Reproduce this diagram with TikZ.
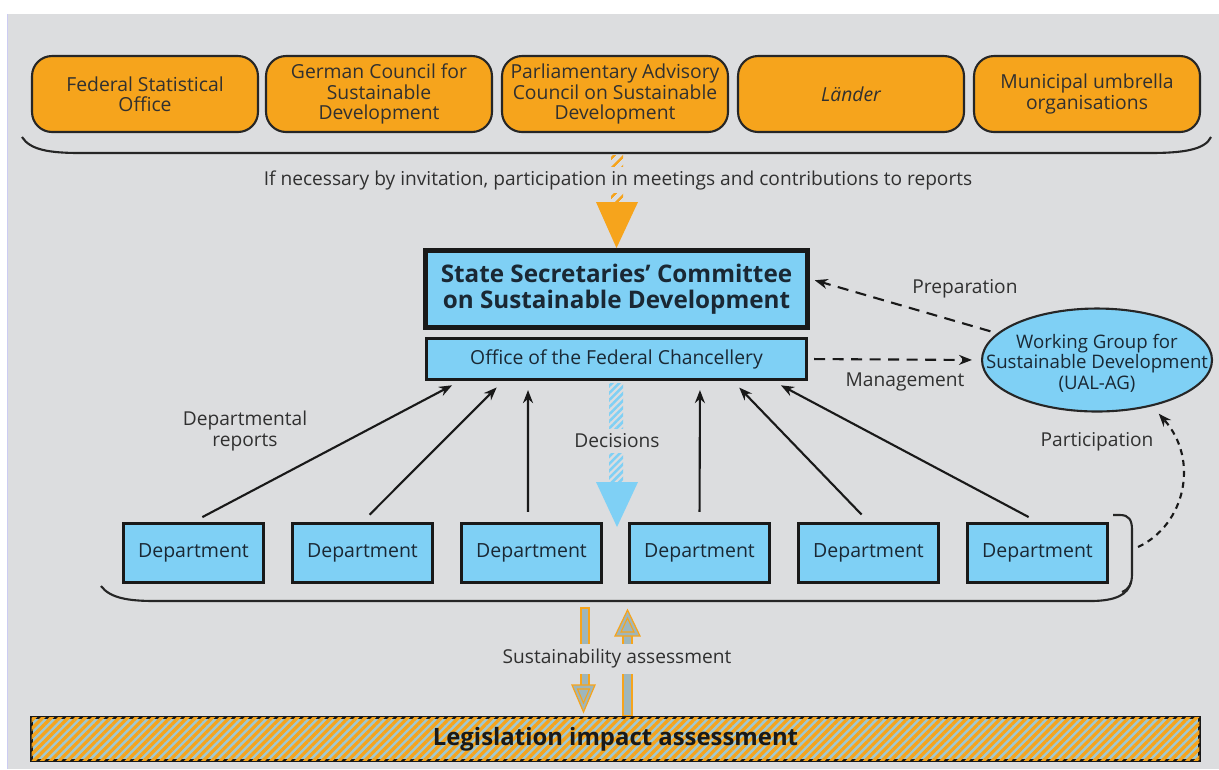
\documentclass[tikz,border=0pt]{standalone}
\usepackage{fontspec}
\setmainfont{Open Sans}
\usetikzlibrary{positioning,shapes.geometric,arrows.meta,patterns.meta}
\definecolor{bggrey}{RGB}{220,221,223}
\definecolor{orgfill}{RGB}{246,164,28}
\definecolor{bluefill}{RGB}{127,208,245}
\definecolor{txtgrey}{RGB}{48,48,48}
\definecolor{navytxt}{RGB}{26,40,52}
\definecolor{assessgrey}{RGB}{158,182,188}
\definecolor{legisblue}{RGB}{160,200,210}
\tikzset{org node/.style={rectangle,rounded corners=0.4cm,fill=orgfill,draw=black!85,line width=1.2pt,minimum width=4.52cm,minimum height=1.52cm,inner sep=0pt,align=center,text=txtgrey,font=\fontsize{11}{11.6}\selectfont}}
\tikzset{comm node/.style={rectangle,fill=bluefill,draw=black!90,line width=2.8pt,minimum width=7.64cm,minimum height=1.54cm,inner sep=0pt,align=center,text=navytxt,font=\fontsize{13.8}{14.8}\selectfont\bfseries}}
\tikzset{office node/.style={rectangle,fill=bluefill,draw=black!90,line width=1.8pt,minimum width=7.6cm,minimum height=0.82cm,inner sep=0pt,text=navytxt,font=\fontsize{11}{12}\selectfont}}
\tikzset{dept node/.style={rectangle,fill=bluefill,draw=black!90,line width=2pt,minimum width=2.8cm,minimum height=1.18cm,inner sep=0pt,text=navytxt,font=\fontsize{11.1}{12}\selectfont}}
\tikzset{wg node/.style={ellipse,fill=bluefill,draw=black!85,line width=1.2pt,minimum width=4.6cm,minimum height=2.06cm,inner sep=0pt}}
\tikzset{wg text/.style={align=center,text=navytxt,inner sep=0pt,font=\fontsize{10.6}{11.6}\selectfont}}
\tikzset{legis node/.style={rectangle,fill=legisblue,postaction={pattern={Lines[angle=45,distance=0.12cm,line width=0.065cm]},pattern color=orgfill},draw=black!90,line width=1.8pt,minimum width=23.36cm,minimum height=0.86cm,inner sep=0pt,text=black!90,font=\fontsize{13.6}{15}\selectfont\bfseries}}
\tikzset{label node/.style={align=center,text=txtgrey,inner sep=2pt,font=\fontsize{10.9}{11.5}\selectfont}}
\tikzset{brace line/.style={draw=black!85,line width=1.2pt}}
\tikzset{report/.style={draw=black!90,line width=1.2pt,-{Stealth[length=0.26cm,width=0.2cm]},shorten <=0.2cm,shorten >=0.18cm}}
\tikzset{dash arrow/.style={draw=black!90,line width=1.2pt,dash pattern=on 0.22cm off 0.15cm,-{Stealth[length=0.26cm,width=0.2cm]}}}
\tikzset{dot arrow/.style={draw=black!90,line width=1.2pt,dash pattern=on 0.12cm off 0.1cm,-{Stealth[length=0.26cm,width=0.2cm]}}}
\tikzset{assess arrow/.style={fill=assessgrey,draw=orgfill,line width=0.7pt}}

\begin{document}
\begin{tikzpicture}[x=0.02cm,y=-0.02cm]
        % page
        \useasboundingbox (0,0) rectangle (1219,769);
        \fill[white] (0,0) rectangle (1219,769);
        \fill[bggrey] (8,14) rectangle (1219,769);
        \draw[black!25!blue!20,line width=0.8pt] (7.5,14) -- (7.5,769);

        % contributors
        \node[org node] (fso) at (145,94) {Federal Statistical\\Office};
        \node[org node] (gcsd) at (379,94) {German Council for\\Sustainable\\Development};
        \node[org node] (pacsd) at (615,94) {Parliamentary Advisory\\Council on Sustainable\\Development};
        \node[org node] (laender) at (851,94) {\itshape Länder};
        \node[org node] (muo) at (1087,94) {Municipal umbrella\\organisations};
        \path[brace line] (22,137) .. controls (30,150) and (50,153) .. (80,153) -- (1150,153) .. controls (1182,153) and (1205,150) .. (1211,137);

        % committee
        \node[comm node] (ssc) at (616.5,289) {State Secretaries' Committee\\on Sustainable Development};
        \node[office node] (office) at (616.5,359) {Office of the Federal Chancellery};
        \node[wg node] (wg) at (1097,360) {};
        \node[wg text] (wgtxt) at (1097,363) {Working Group for\\Sustainable Development\\(UAL-AG)};

        % invitation arrow
        \fill[pattern={Lines[angle=45,distance=0.14cm,line width=0.05cm]},pattern color=orgfill] (611,155) rectangle (623,204);
        \node[label node,fill=bggrey] (invite) at (618,180) {If necessary by invitation, participation in meetings and contributions to reports};
        \fill[orgfill] (596,202) -- (638,202) -- (ssc.north) -- cycle;

        % departments
        \node[dept node] (d1) at (193.5,553) {Department};
        \node[dept node] (d2) at (362.5,553) {Department};
        \node[dept node] (d3) at (531.5,553) {Department};
        \node[dept node] (d4) at (699.5,553) {Department};
        \node[dept node] (d5) at (868.5,553) {Department};
        \node[dept node] (d6) at (1037.5,553) {Department};
        \path[brace line] (101,586) .. controls (110,598) and (128,601) .. (155,601) -- (1090,601) .. controls (1115,601) and (1128,595) .. (1131,582);
        \path[brace line] (1113,515) -- (1120,515) .. controls (1129,515) and (1132,520) .. (1132,530) -- (1132,574) .. controls (1132,584) and (1129,589) .. (1122,592);
        \coordinate (brk) at (1138,547);

        % reports
        \path
        (d1.north) edge[report] ([xshift=-3.13cm]office.south)
        (d2.north) edge[report] ([xshift=-2.27cm]office.south)
        ([xshift=-0.07cm]d3.north) edge[report] ([xshift=-1.77cm]office.south)
        (d4.north) edge[report] ([xshift=1.67cm]office.south)
        (d5.north) edge[report] ([xshift=2.33cm]office.south)
        (d6.north) edge[report] ([xshift=3.13cm]office.south);
        \node[label node] (reports) at (245,431) {Departmental\\reports};

        % decisions arrow
        \fill[pattern={Lines[angle=45,distance=0.1cm,line width=0.05cm]},pattern color=bluefill] (609,383) rectangle (623,483);
        \node[label node,fill=bggrey,inner sep=3pt] (dec) at (617,441) {Decisions};
        \fill[bluefill] (596,482) -- (638,482) -- (617,527) -- cycle;

        % working group links
        \draw[dash arrow,shorten <=0.14cm,shorten >=0.1cm] (wg.165) -- (ssc.3);
        \draw[dash arrow,shorten <=0.12cm,shorten >=0.18cm] (office.east) -- (wg.west);
        \draw[dot arrow,shorten >=0.2cm] (brk) .. controls (1185,525) and (1200,460) .. (wg.-40);
        \node[label node] (prep) at (965,289) {Preparation};
        \node[label node] (mgmt) at (905,382) {Management};
        \node[label node] (part) at (1097,442) {Participation};

        % assessment
        \path[assess arrow] (581,608) rectangle (589,687);
        \path[assess arrow] (572,685) -- (595,685) -- (583.5,712) -- cycle;
        \draw[orgfill,line width=0.6pt] (577.5,689) -- (589.5,689) -- (583.5,703) -- cycle;
        \path[assess arrow] (623,635) rectangle (632,716);
        \path[assess arrow] (615,636) -- (640,636) -- (627.5,610) -- cycle;
        \draw[orgfill,line width=0.6pt] (621,632) -- (634,632) -- (627.5,618) -- cycle;
        \node[label node,fill=bggrey,inner sep=3pt] (sust) at (617,659) {Sustainability assessment};
        \node[legis node] (lia) at (615.5,739) {Legislation impact assessment};
    \end{tikzpicture}
\end{document}
